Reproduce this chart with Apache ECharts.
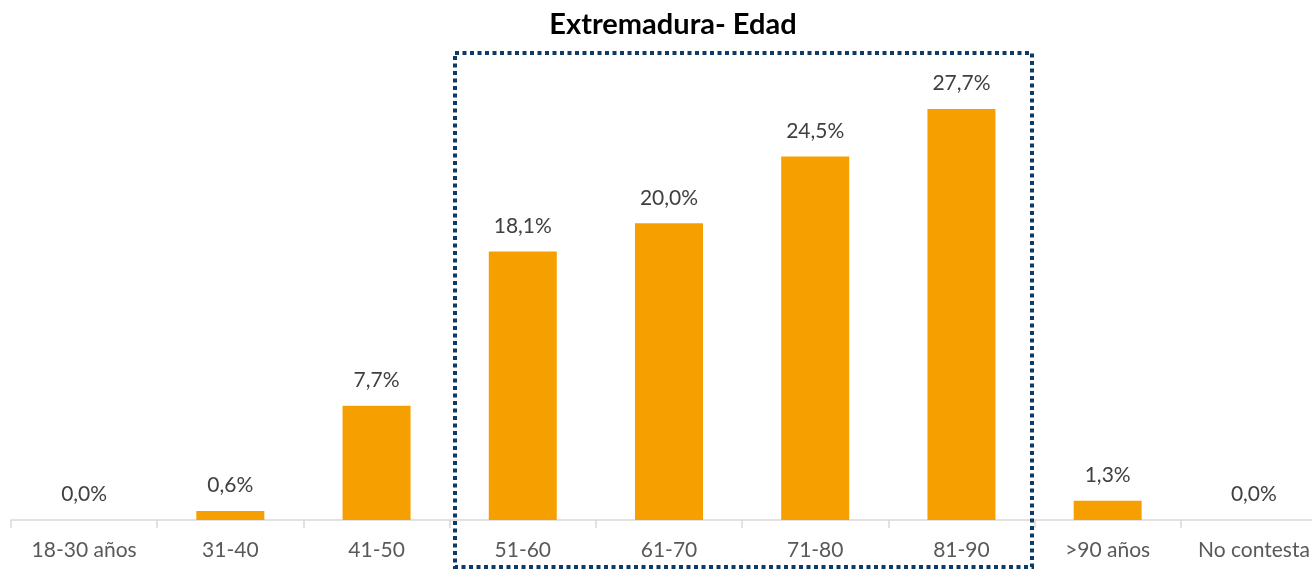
<!DOCTYPE html>
<html>
<head>
<meta charset="utf-8">
<script src="https://cdn.jsdelivr.net/npm/echarts@6/dist/echarts.min.js"></script>
<style>
  html, body { margin: 0; padding: 0; background: #fff; overflow: hidden; }
  #chart { width: 1330px; height: 570px; }
</style>
</head>
<body>
<div id="chart"></div>
<script>
  // 数据
  const categories = ['18-30 años', '31-40', '41-50', '51-60', '61-70', '71-80', '81-90', '>90 años', 'No contesta'];
  const values = [0.0, 0.6, 7.7, 18.1, 20.0, 24.5, 27.7, 1.3, 0.0];

  const myChart = echarts.init(document.getElementById('chart'));
  const font = 'Lato, "Open Sans", sans-serif';

  myChart.setOption({
    animation: false,
    title: {
      text: 'Extremadura- Edad',
      left: 668,
      textAlign: 'center',
      top: 5,
      textStyle: { fontFamily: font, fontSize: 29, fontWeight: 'bold', color: '#000' }
    },
    grid: { left: 11, width: 1316, top: 75, bottom: 50, containLabel: false },
    xAxis: {
      type: 'category',
      data: categories,
      axisLine: { lineStyle: { color: '#d9d9d9', width: 1.5 } },
      axisTick: { show: true, length: 8, lineStyle: { color: '#d9d9d9', width: 1.5 } },
      axisLabel: { fontFamily: font, fontSize: 21, color: '#595959', margin: 20, interval: 0 }
    },
    yAxis: {
      type: 'value',
      min: 0,
      max: 30,
      show: false,
      splitLine: { show: false }
    },
    series: [{
      type: 'bar',
      data: values,
      barWidth: 68,
      itemStyle: { color: '#f5a000' },
      label: {
        show: true,
        position: 'top',
        distance: 15,
        fontFamily: font,
        fontSize: 21,
        color: '#404040',
        formatter: p => p.value.toFixed(1).replace('.', ',') + '%'
      }
    }],
    // 虚线框
    graphic: [{
      type: 'rect',
      shape: { x: 455, y: 53, width: 577, height: 514 },
      style: { fill: 'none', stroke: '#0d3b66', lineWidth: 4, lineDash: [4, 3.5] },
      z: 100
    }]
  });
</script>
</body>
</html>
